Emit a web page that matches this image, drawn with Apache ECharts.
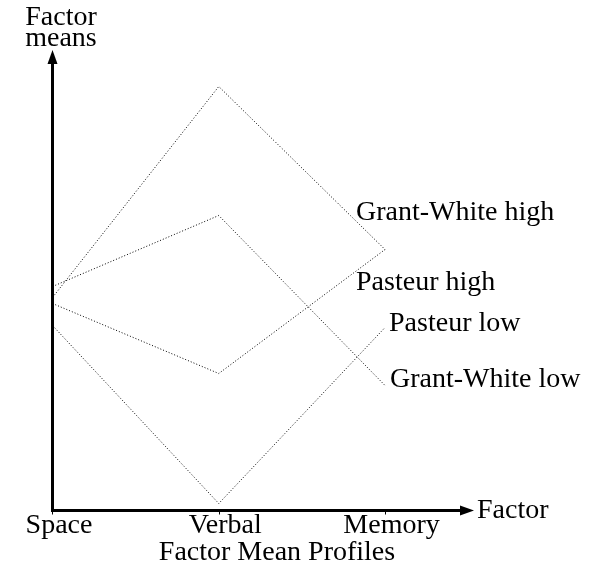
<!DOCTYPE html>
<html>
<head>
<meta charset="utf-8">
<script src="https://cdn.jsdelivr.net/npm/echarts@6/dist/echarts.min.js"></script>
<style>
    html, body { margin: 0; padding: 0; background: #fff; }
    #profile_chart { width: 610px; height: 571px; }
</style>
</head>
<body>
<div id="profile_chart"></div>
<script>
// factors along the x axis
var factors = ['Space', 'Verbal', 'Memory'];

// factor means per group
var gwHigh = [2.13, 4.24, 2.61];
var gwLow = [2.24, 2.95, 1.25];
var pasteurHigh = [2.07, 1.37, 2.61];
var pasteurLow = [1.85, 0.07, 1.83];

var seriesNames = ['Grant-White high', 'Grant-White low', 'Pasteur high', 'Pasteur low'];

var serif = 'Liberation Serif';

function toPoints(values) {
    return values.map(function (v, i) { return [i, v]; });
}

function profile(name, values, labelOffset) {
    return {
        name: name,
        type: 'line',
        data: toPoints(values),
        showSymbol: false,
        symbol: 'none',
        lineStyle: {
            color: '#000',
            width: 1,
            type: [1, 2]
        },
        endLabel: {
            show: true,
            formatter: '{a}',
            distance: 0,
            offset: labelOffset,
            color: '#000',
            fontFamily: serif,
            fontSize: 28,
            lineHeight: 28
        }
    };
}

var profileChart = echarts.init(document.getElementById('profile_chart'));

var option = {
    animation: false,
    title: {
        text: 'Factor Mean Profiles',
        left: 277,
        top: 539,
        padding: 0,
        textAlign: 'center',
        textStyle: {
            color: '#000',
            fontFamily: serif,
            fontSize: 28,
            fontWeight: 'normal',
            lineHeight: 28
        }
    },
    grid: {
        left: 52.5,
        right: 143,
        top: 57,
        bottom: 60.5,
        containLabel: false
    },
    xAxis: {
        type: 'value',
        min: 0,
        max: 2.493,
        interval: 1,
        name: 'Factor',
        nameLocation: 'end',
        nameGap: 10,
        nameTextStyle: {
            color: '#000',
            fontFamily: serif,
            fontSize: 28,
            padding: [0, 0, 4, 0]
        },
        axisLine: {
            symbol: ['none', 'triangle'],
            symbolSize: [10, 14],
            lineStyle: { color: '#000', width: 3, cap: 'square' }
        },
        axisTick: {
            show: true,
            inside: false,
            length: 4,
            customValues: [0, 1, 2],
            lineStyle: { color: '#000', width: 1 }
        },
        axisLabel: {
            customValues: [0, 1, 2],
            formatter: function (v) { return factors[Math.round(v)] || ''; },
            margin: 1,
            padding: [0, 0, 0, 13],
            color: '#000',
            fontFamily: serif,
            fontSize: 28,
            lineHeight: 28
        },
        splitLine: { show: false }
    },
    yAxis: {
        type: 'value',
        min: 0,
        max: 4.535,
        name: 'Factor\nmeans',
        nameLocation: 'end',
        nameGap: 8,
        nameTextStyle: {
            color: '#000',
            fontFamily: serif,
            fontSize: 28,
            lineHeight: 21,
            align: 'center',
            padding: [0, 0, 0, 17]
        },
        axisLine: {
            show: true,
            symbol: ['none', 'triangle'],
            symbolSize: [10, 14],
            lineStyle: { color: '#000', width: 3, cap: 'square' }
        },
        axisTick: { show: false },
        axisLabel: { show: false },
        splitLine: { show: false }
    },
    series: [
        profile(seriesNames[0], gwHigh, [-29, -37]),
        profile(seriesNames[1], gwLow, [5, -5.5]),
        profile(seriesNames[2], pasteurHigh, [-29, 33.5]),
        profile(seriesNames[3], pasteurLow, [4, -3.5])
    ]
};

profileChart.setOption(option);

window.addEventListener('resize', function () {
    if (profileChart != null && profileChart != undefined) {
        profileChart.resize();
    }
});
</script>
</body>
</html>
